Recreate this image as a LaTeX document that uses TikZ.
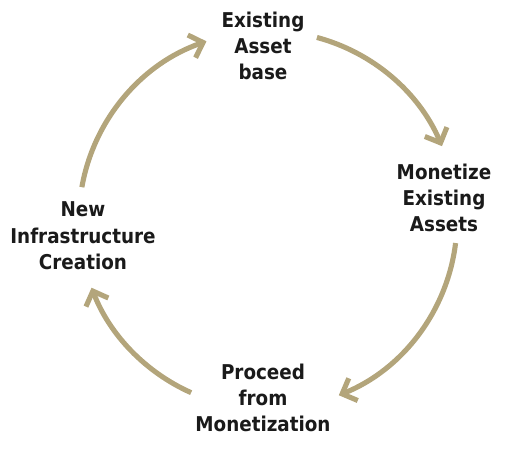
\documentclass[tikz,border=0pt]{standalone}
\usepackage{fontspec}
\setmainfont{DejaVu Sans Condensed}
\usepackage{tikz}
\usetikzlibrary{arrows.meta, positioning}
\definecolor{mkhaki}{HTML}{B3A57B}
\definecolor{mtext}{HTML}{1A1A1A}
\tikzset{
  stage/.style={align=center, inner sep=0pt, text=mtext,
                font=\fontsize{11.6}{15}\selectfont\bfseries},
  cyc/.style={mkhaki, line width=2.9pt,
              -{Straight Barb[length=2.4mm, width=4.8mm]}},
}

\begin{document}
\begin{tikzpicture}[x=0.02cm, y=-0.02cm]
  \useasboundingbox (0,0) rectangle (512,451);

  %% Hub of the cycle
  \coordinate (hub) at (268,220);

  %% Stages
  \node[stage] (asset) at (263,46)  {Existing\\Asset\\base};
  \node[stage] (monet) at (444,198) {Monetize\\Existing\\Assets};
  \node[stage] (proc)  at (263,398) {Proceed\\from\\Monetization};
  \node[stage] (infra) at (83,236)  {New\\Infrastructure\\Creation};

  %% Start points of the arcs
  \coordinate (a1) at ([shift={(285:189)}]hub);
  \coordinate (a2) at ([shift={(7:189)}]hub);
  \coordinate (a3) at ([shift={(114:189)}]hub);
  \coordinate (a4) at ([shift={(190:189)}]hub);

  %% Arcs, clockwise
  \draw[cyc] (a1) arc[start angle=285, end angle=337, radius=189];
  \draw[cyc] (a2) arc[start angle=7,   end angle=68,  radius=189];
  \draw[cyc] (a3) arc[start angle=114, end angle=159, radius=189];
  \draw[cyc] (a4) arc[start angle=190, end angle=251, radius=189];

\end{tikzpicture}
\end{document}
